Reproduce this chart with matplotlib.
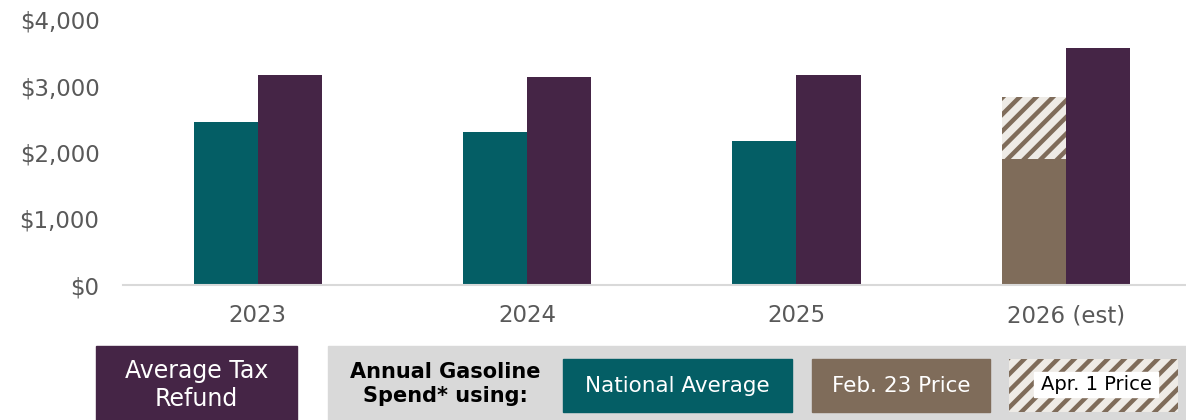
import numpy as np
import matplotlib
matplotlib.use('Agg')
import matplotlib.pyplot as plt
from matplotlib.patches import Rectangle
from matplotlib.ticker import FuncFormatter

# data
years = ['2023', '2024', '2025', '2026 (est)']
national_avg = [2460, 2310, 2170, np.nan]
feb23_price = [np.nan, np.nan, np.nan, 1900]
apr1_price = [np.nan, np.nan, np.nan, 2840]
tax_refund = [3170, 3140, 3170, 3570]

teal = '#045e65'
purple = '#452546'
brown = '#7f6c5a'
hatch_bg = '#eeebe6'
grey_txt = '#595959'

plt.rcParams['hatch.linewidth'] = 3.2
plt.rcParams['font.family'] = ['DejaVu Sans']

fig = plt.figure(figsize=(11.86, 4.2), dpi=100)
ax = fig.add_axes([123/1186, 135/420, 1063/1186, 265/420])

x = np.arange(len(years))
w = 0.238
ax.bar(x - w/2, national_avg, w, color=teal, align='center')
ax.bar(x - w/2, feb23_price, w, color=brown)
ax.bar(x - w/2, np.array(apr1_price) - np.array(feb23_price), w,
       bottom=feb23_price, facecolor=hatch_bg, edgecolor=brown,
       linewidth=0, hatch='//')
ax.bar(x + w/2, tax_refund, w, color=purple)

ax.set_xlim(-0.5, 3.446)
ax.set_ylim(0, 4000)
ax.set_yticks([0, 1000, 2000, 3000, 4000])
ax.yaxis.set_major_formatter(FuncFormatter(lambda v, p: '${:,.0f}'.format(v)))
ax.set_xticks(x)
ax.set_xticklabels(years)
ax.tick_params(axis='both', length=0, labelsize=16.5, colors=grey_txt)
ax.tick_params(axis='y', pad=17)
ax.tick_params(axis='x', pad=14)
for s in ['top', 'right', 'left']:
    ax.spines[s].set_visible(False)
ax.spines['bottom'].set_color('#d9d9d9')
ax.spines['bottom'].set_linewidth(1.5)

# legend strip at the bottom, drawn in pixel coords
lg = fig.add_axes([0, 0, 1, 1], zorder=-1)
lg.set_xlim(0, 1186)
lg.set_ylim(420, 0)
lg.axis('off')

lg.add_patch(Rectangle((96, 346), 201, 80, color=purple))
lg.text(196.5, 385, 'Average Tax\nRefund', color='white', fontsize=17,
        ha='center', va='center', linespacing=1.25)

lg.add_patch(Rectangle((328, 346), 870, 80, color='#d9d9d9'))
lg.text(445, 384, 'Annual Gasoline\nSpend* using:', color='black', fontsize=15,
        fontweight='bold', ha='center', va='center', linespacing=1.3)

lg.add_patch(Rectangle((563, 359), 229, 53, color=teal))
lg.text(677.5, 386, 'National Average', color='white', fontsize=15.5,
        ha='center', va='center')

lg.add_patch(Rectangle((812, 359), 178, 53, color=brown))
lg.text(901, 386, 'Feb. 23 Price', color='white', fontsize=15.5,
        ha='center', va='center')

lg.add_patch(Rectangle((1009, 359), 169, 53, facecolor=hatch_bg,
                       edgecolor=brown, linewidth=0, hatch='//'))
lg.add_patch(Rectangle((1034, 372), 124, 25, color='white'))
lg.text(1096, 385, 'Apr. 1 Price', color='black', fontsize=14,
        ha='center', va='center')

fig.savefig('out.png', dpi=100)
